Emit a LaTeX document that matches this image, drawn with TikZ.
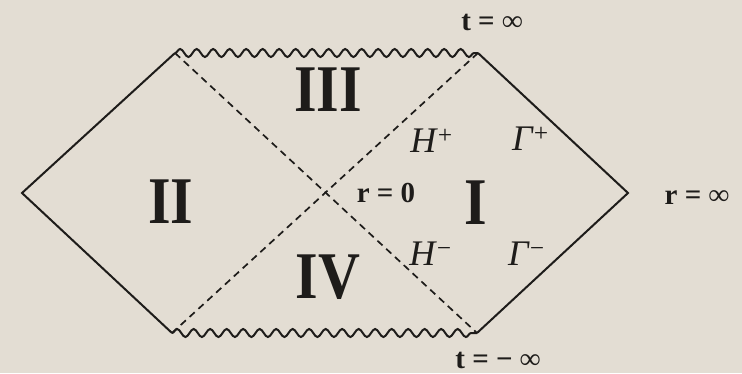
\documentclass[tikz,border=0pt]{standalone}
\usepackage{fontspec}
\setmainfont{Liberation Serif}
\usetikzlibrary{decorations.pathmorphing}
\definecolor{bg}{HTML}{E3DDD3}
\definecolor{ink}{HTML}{1E1C1A}
\tikzset{
  edge/.style={draw=ink, line width=2pt},
  horizon/.style={draw=ink, line width=1.7pt, dash pattern=on 7pt off 5pt},
  sing/.style={draw=ink, line width=2pt, decorate, decoration={snake, segment length=16.5pt, amplitude=4pt}},
  region/.style={font=\fontsize{58}{58}\selectfont\bfseries, text=ink, inner sep=0pt, yscale=1.15, transform shape},
  hlabel/.style={font=\fontsize{36}{36}\selectfont\itshape, text=ink, inner sep=0pt},
  small/.style={font=\fontsize{29}{29}\selectfont\bfseries, text=ink, inner sep=0pt}
}
\begin{document}
\begin{tikzpicture}[x=1pt,y=-1pt]
\fill[bg] (0,0) rectangle (742,373);
\useasboundingbox (0,0) rectangle (742,373);
\coordinate (L) at (22,193);
\coordinate (TL) at (175,53);
\coordinate (TR) at (478,53);
\coordinate (R) at (628,193);
\coordinate (BR) at (477,333);
\coordinate (BL) at (172,333);
\draw[edge] (TL) -- (L) -- (BL);
\draw[edge] (TR) -- (R) -- (BR);
\draw[sing] (TL) -- (TR);
\draw[sing] (BL) -- (BR);
\draw[horizon] (TL) -- (BR);
\draw[horizon] (TR) -- (BL);
\node[region] (n3) at (328,90) {III};
\node[region] (n2) at (171,202) {II};
\node[region] (n4) at (328,277) {IV};
\node[region] (n1) at (476,203) {I};
\node[hlabel] (hp) at (432,141) {H\textsuperscript{+}};
\node[hlabel] (gp) at (531,139) {Γ\textsuperscript{+}};
\node[hlabel] (hm) at (431,254) {H\textsuperscript{\textminus}};
\node[hlabel] (gm) at (527,254) {Γ\textsuperscript{\textminus}};
\node[small] (r0) at (386,193) {r = 0};
\node[small] (tinf) at (492,22) {t = ∞};
\node[small] (rinf) at (697,198) {r = ∞};
\node[small] (tminf) at (498,360) {t = − ∞};
\end{tikzpicture}
\end{document}
